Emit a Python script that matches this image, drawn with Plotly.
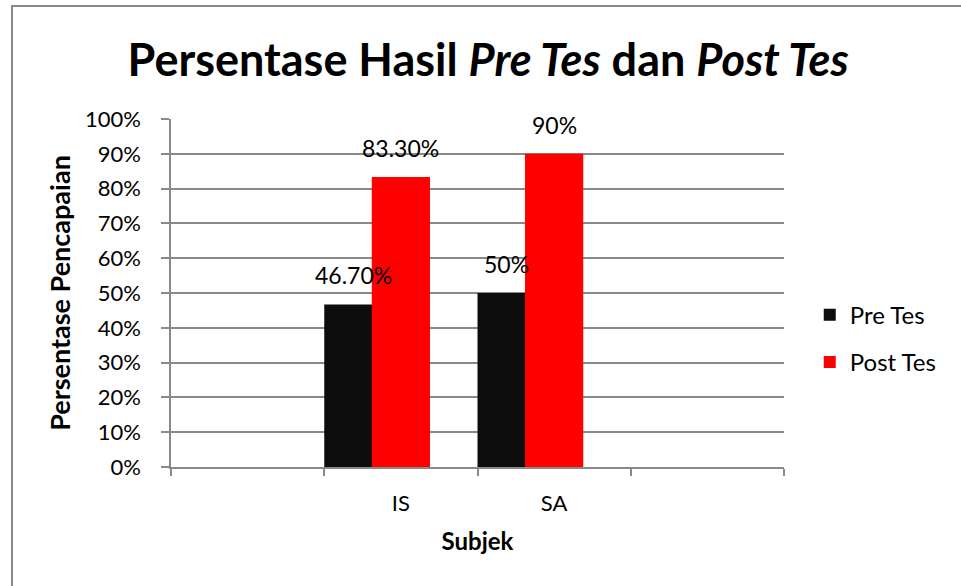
import plotly.graph_objects as go

# data
slots = [" ", "IS", "SA", "  "]          # Excel chart has empty category slots on both sides
subjects = ["IS", "SA"]
pre_tes = [0.467, 0.50]
post_tes = [0.833, 0.90]
pre_labels = ["46.70%", "50%"]
post_labels = ["83.30%", "90%"]

FONT = "Lato"
GRID = "#898989"
BAR_W = 0.38

fig = go.Figure()
fig.add_trace(go.Bar(
    x=subjects, y=pre_tes, name="Pre Tes",
    marker_color="#0d0d0d", marker_line_width=0, width=BAR_W, offset=-0.5,
    legendgroup="pre",
))
fig.add_trace(go.Bar(
    x=subjects, y=post_tes, name="Post Tes",
    marker_color="#ff0000", marker_line_width=0, width=BAR_W, offset=-BAR_W / 2,
    legendgroup="post",
))

# data labels above each bar
px_per_cat = 613 / 4
for xs, ys, labels, off in [(subjects, pre_tes, pre_labels, -0.5 + BAR_W / 2),
                            (subjects, post_tes, post_labels, 0.0)]:
    for x, y, t in zip(xs, ys, labels):
        fig.add_annotation(x=x, y=y, text=t, showarrow=False, yanchor="bottom",
                           xshift=off * px_per_cat, yshift=13,
                           font=dict(family=FONT, size=23, color="#000"))

# outer chart border (right and bottom edges fall outside the picture)
fig.add_shape(type="rect", xref="paper", yref="paper",
              x0=(12 - 171) / 613, x1=(975 - 171) / 613,
              y0=(467 - 600) / 348, y1=(467 - 6) / 348,
              line=dict(color=GRID, width=2), layer="below")

fig.update_layout(
    width=961, height=586,
    margin=dict(l=171, r=177, t=119, b=119, autoexpand=False),
    paper_bgcolor="white", plot_bgcolor="white",
    barmode="overlay",
    font=dict(family=FONT, size=22, color="#000"),
    title=dict(
        text="<b>Persentase Hasil <i>Pre Tes</i> dan <i>Post Tes</i></b>",
        x=0.508, xanchor="center", y=0.897, yanchor="middle",
        font=dict(family=FONT, size=45, color="#000"),
    ),
    legend=dict(x=1.042, y=0.369, xanchor="left", yanchor="middle",
                font=dict(family=FONT, size=24), tracegroupgap=13,
                traceorder="grouped"),
    xaxis=dict(
        type="category", categoryorder="array", categoryarray=slots,
        range=[-0.5, 3.5], tickson="boundaries",
        showline=True, linecolor=GRID, linewidth=1.5,
        ticks="outside", ticklen=7, tickcolor=GRID, tickwidth=1.5,
        ticklabelstandoff=16, showgrid=False,
        tickfont=dict(family=FONT, size=22),
        title=dict(text="<b>Subjek</b>", font=dict(family=FONT, size=24), standoff=18),
    ),
    yaxis=dict(
        range=[0, 1.0], dtick=0.1, tickformat=".0%",
        showline=True, linecolor=GRID, linewidth=1.5,
        ticks="outside", ticklen=8, tickcolor=GRID, tickwidth=1.5,
        showgrid=True, gridcolor=GRID, gridwidth=1.5, zeroline=False,
        ticklabelstandoff=16, tickfont=dict(family=FONT, size=22),
        title=dict(text="<b>Persentase Pencapaian</b>", font=dict(family=FONT, size=27),
                   standoff=6),
    ),
)

fig.write_html("out.html", config={"displayModeBar": False},
               post_script="document.body.style.margin='0';")
